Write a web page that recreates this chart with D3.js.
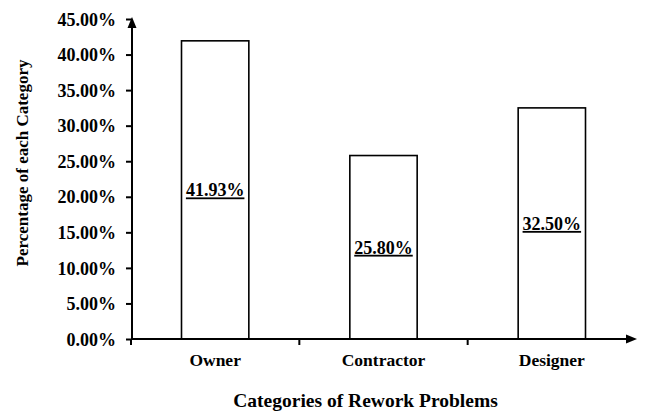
<!DOCTYPE html>
<html>
<head>
<meta charset="utf-8">
<script src="https://cdn.jsdelivr.net/npm/d3@7"></script>
<style>
  body { margin: 0; background: #fff; }
  svg text { font-family: "Liberation Serif", "Times New Roman", serif; font-weight: bold; fill: #000; }
</style>
</head>
<body>
<div id="bar-chart"></div>
<script>
const categories = ["Owner", "Contractor", "Designer"];
const shares = [41.93, 25.80, 32.50];
const y_ticks = [0, 5, 10, 15, 20, 25, 30, 35, 40, 45];

const width = 651, height = 412;

const svg = d3.select("#bar-chart")
	.append("svg")
		.attr("width", width)
		.attr("height", height);

// x: one band per category, boundaries marked with ticks
const x_axis = d3.scaleBand()
	.domain(categories)
	.range([131, 636])
	.paddingInner(0)
	.paddingOuter(0);

const y_axis = d3.scaleLinear()
	.domain([0, 45])
	.range([339, 19]);

const fmt = v => v.toFixed(2) + "%";

// Y axis
const gy = svg.append("g")
	.attr("transform", "translate(132,0)")
	.call(d3.axisLeft(y_axis).tickValues(y_ticks).tickSize(6).tickPadding(10).tickFormat(fmt));
gy.select(".domain").remove();
gy.selectAll(".tick line").attr("stroke", "#000").attr("stroke-width", 2);
gy.selectAll(".tick text").style("font-size", "18px").attr("dy", "0.34em");

svg.append("line")
	.attr("x1", 132).attr("x2", 132)
	.attr("y1", y_axis(0) + 1).attr("y2", y_axis(45) + 4)
	.attr("stroke", "#000").attr("stroke-width", 2);
svg.append("path")
	.attr("d", `M132,${y_axis(45) - 2} L127.5,${y_axis(45) + 9} L136.5,${y_axis(45) + 9} Z`)
	.attr("fill", "#000");

// bars
const bar_w = x_axis.bandwidth() * 0.4;
const bars = svg.append("g");
categories.forEach((c, i) => {
	const cx = x_axis(c) + x_axis.bandwidth() / 2;
	bars.append("rect")
		.attr("x", cx - bar_w / 2)
		.attr("y", y_axis(shares[i]))
		.attr("width", bar_w)
		.attr("height", y_axis(0) - y_axis(shares[i]))
		.attr("fill", "#fff")
		.attr("stroke", "#000")
		.attr("stroke-width", 1.6);

	bars.append("text")
		.attr("x", cx)
		.attr("y", (y_axis(shares[i]) + y_axis(0)) / 2 + 6.5)
		.attr("text-anchor", "middle")
		.style("font-size", "18px")
		.style("text-decoration", "underline")
		.text(fmt(shares[i]));

	svg.append("text")
		.attr("x", cx)
		.attr("y", 366)
		.attr("text-anchor", "middle")
		.style("font-size", "17.5px")
		.text(c);
});

// X axis
svg.append("line")
	.attr("x1", 131).attr("x2", 629)
	.attr("y1", y_axis(0)).attr("y2", y_axis(0))
	.attr("stroke", "#000").attr("stroke-width", 2);
svg.append("path")
	.attr("d", `M637,${y_axis(0)} L626,${y_axis(0) - 4.5} L626,${y_axis(0) + 4.5} Z`)
	.attr("fill", "#000");
categories.forEach(c => {
	svg.append("line")
		.attr("x1", x_axis(c)).attr("x2", x_axis(c))
		.attr("y1", y_axis(0)).attr("y2", y_axis(0) + 6)
		.attr("stroke", "#000").attr("stroke-width", 2);
});

// axis titles
svg.append("text")
	.attr("x", 365.5)
	.attr("y", 407)
	.attr("text-anchor", "middle")
	.style("font-size", "19.5px")
	.text("Categories of Rework Problems");

svg.append("text")
	.attr("transform", "translate(28,163) rotate(-90)")
	.attr("text-anchor", "middle")
	.style("font-size", "17px")
	.text("Percentage of each Category");
</script>
</body>
</html>
